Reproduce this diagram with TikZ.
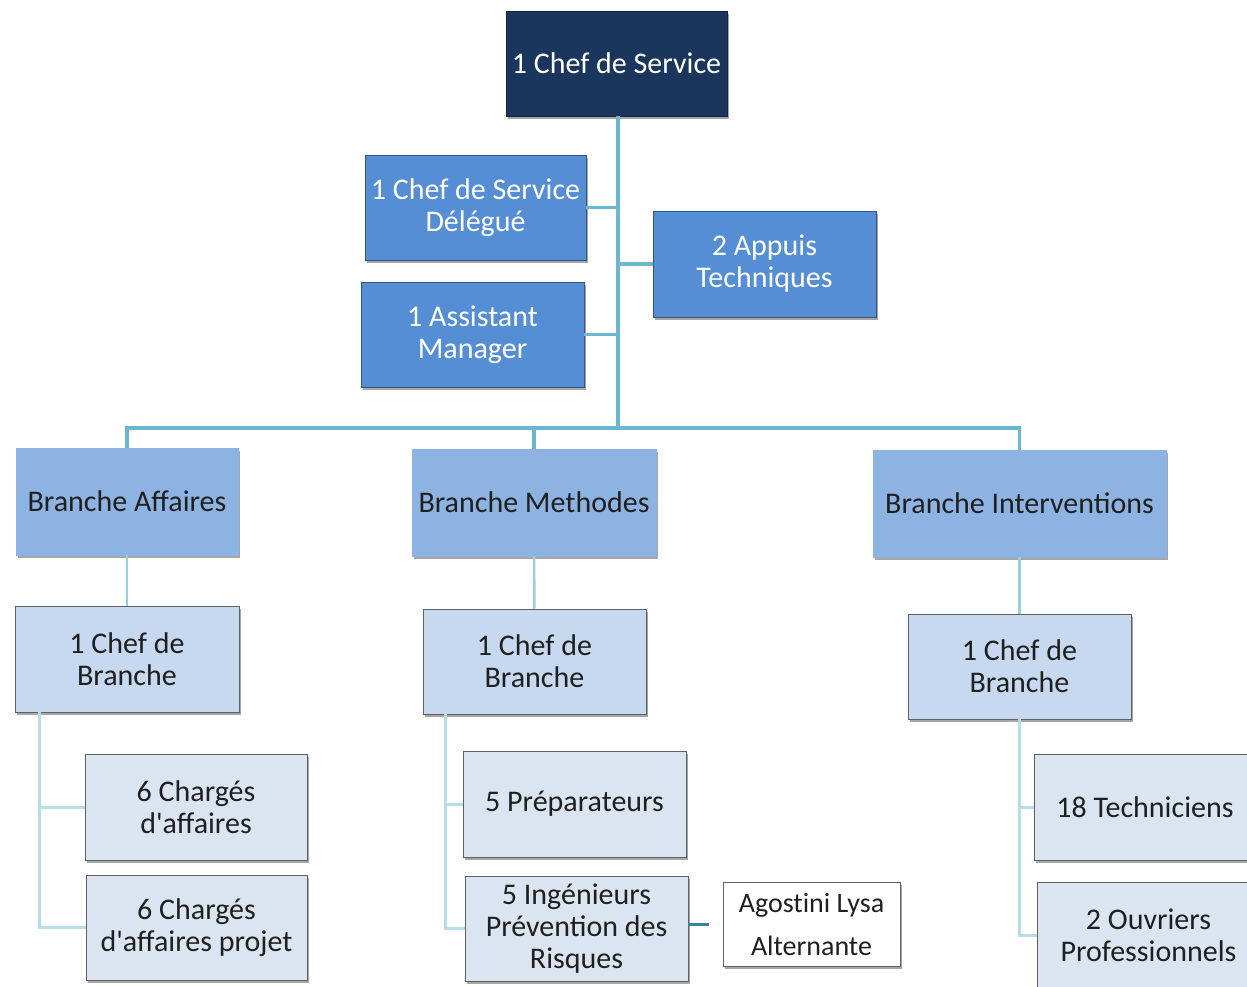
\documentclass[tikz,border=0pt]{standalone}
\usepackage{fontspec}
\setmainfont{Carlito}
\usepackage{tikz}
\usetikzlibrary{positioning,shadows}

\definecolor{navy}{HTML}{1B365D}
\definecolor{midblue}{HTML}{558ED5}
\definecolor{branchblue}{HTML}{8DB3E2}
\definecolor{chefblue}{HTML}{C6D9F1}
\definecolor{subblue}{HTML}{DBE5F1}
\definecolor{trunkcol}{HTML}{6CB6CF}
\definecolor{lowcol}{HTML}{B7DDE8}
\definecolor{midcol}{HTML}{9BCFDF}
\definecolor{altcol}{HTML}{31859C}

\tikzset{
    box/.style={rectangle, draw=gray!75!black, line width=0.9pt, align=center, inner sep=0pt,
        font=\fontsize{30}{32}\selectfont, text=black!88,
        drop shadow={shadow xshift=2pt, shadow yshift=-3pt, opacity=.35, fill=black}},
    topbox/.style={box, fill=navy, draw=navy!70!black, text=white},
    staffbox/.style={box, fill=midblue, draw=midblue!60!black, text=white},
    branchbox/.style={box, fill=branchblue, draw=branchblue, text=black!88},
    chefbox/.style={box, fill=chefblue},
    subbox/.style={box, fill=subblue},
    trunk/.style={draw=trunkcol, line width=3.5pt},
    midline/.style={draw=midcol, line width=2.5pt},
    lowline/.style={draw=lowcol, line width=3pt}
}

\begin{document}
\begin{tikzpicture}[x=1pt,y=-1pt]
            \useasboundingbox (0,0) rectangle (1247,986);
            \clip (0,0) rectangle (1247,986);

            \node[topbox, minimum width=221pt, minimum height=105pt] (chef) at (616.5,63.5) {1 Chef de Service};
            \node[staffbox, minimum width=221pt, minimum height=105pt] (delegue) at (475.5,207.5) {1 Chef de Service\\Délégué};
            \node[staffbox, minimum width=223pt, minimum height=105pt] (assist) at (472.5,334.5) {1 Assistant\\Manager};
            \node[staffbox, minimum width=223pt, minimum height=106pt] (appuis) at (764.5,264) {2 Appuis\\Techniques};

            \node[branchbox, minimum width=222pt, minimum height=107pt] (baff) at (127,501.5) {Branche Affaires};
            \node[branchbox, minimum width=244pt, minimum height=107pt] (bmeth) at (534,502.5) {Branche Methodes};
            \node[branchbox, minimum width=293pt, minimum height=107pt] (binter) at (1019.5,503.5) {Branche Interventions};

            \node[chefbox, minimum width=224pt, minimum height=106pt] (caff) at (127,659) {1 Chef de\\Branche};
            \node[chefbox, minimum width=223pt, minimum height=105pt] (cmeth) at (534.5,661.5) {1 Chef de\\Branche};
            \node[chefbox, minimum width=223pt, minimum height=105pt] (cinter) at (1019.5,666.5) {1 Chef de\\Branche};

            \node[subbox, minimum width=222pt, minimum height=106pt] (charg) at (196,807) {6 Chargés\\d\textquotesingle affaires};
            \node[subbox, minimum width=221pt, minimum height=105pt] (projet) at (196.5,927.5) {6 Chargés\\d\textquotesingle affaires projet};
            \node[subbox, minimum width=223pt, minimum height=106pt] (prep) at (574.5,804) {5 Préparateurs};
            \node[subbox, minimum width=223pt, minimum height=105pt] (ing) at (576.5,928.5) {5 Ingénieurs\\Prévention des\\Risques};
            \node[box, fill=white, minimum width=177pt, minimum height=84pt,
                font=\fontsize{28}{43}\selectfont\addfontfeatures{Ligatures=NoCommon}] (ago) at (811.5,924) {Agostini Lysa\\Alternante};
            \node[subbox, minimum width=222pt, minimum height=106pt] (tech) at (1145,807) {18 Techniciens};
            \node[subbox, minimum width=223pt, minimum height=106pt] (ouv) at (1148.5,935) {2 Ouvriers\\Professionnels};

            \coordinate (bar) at (618,428);

            \draw[trunk] (chef.south -| bar) -- (bar);
            \draw[trunk] (delegue.east) -- (delegue.east -| bar);
            \draw[trunk] (assist.east) -- (assist.east -| bar);
            \draw[trunk] (appuis.west) -- (appuis.west -| bar);
            \draw[trunk] (baff.north) |- (bar) -| (binter.north);
            \draw[trunk] (bmeth.north) -- (bmeth.north |- bar);

            \draw[midline] (baff) -- (caff);
            \draw[midline] (bmeth) -- (cmeth);
            \draw[midline] (binter) -- (cinter);

            \draw[lowline] ([xshift=25pt]caff.south west) |- (charg.west);
            \draw[lowline] ([xshift=25pt]caff.south west) |- (projet.west);
            \draw[lowline] ([xshift=23pt]cmeth.south west) |- (prep.west);
            \draw[lowline] ([xshift=23pt]cmeth.south west) |- (ing.west);
            \draw[lowline] (cinter.south) |- (tech.west);
            \draw[lowline] (cinter.south) |- (ouv.west);

            \draw[draw=altcol, line width=3pt, shorten >=14pt] (ing.east |- ago.west) -- (ago.west);
        \end{tikzpicture}
\end{document}
